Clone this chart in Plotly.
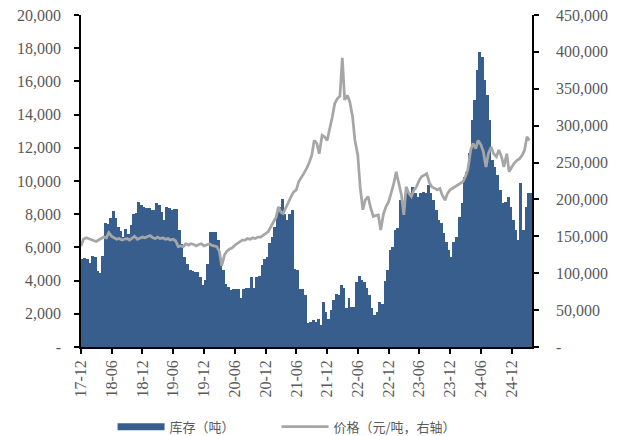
import plotly.graph_objects as go
import pandas as pd

# half-monthly observation dates (1st and 15th of each month)
dates = pd.date_range('2017-12-01', periods=176, freq='SMS')

inventory = [
    5300, 5360, 5300, 5040, 5480, 5420, 4600, 4450, 5480, 7500,
    7400, 7750, 8190, 7750, 7250, 7000, 6600, 7100, 6800, 7350,
    8000, 8100, 8730, 8570, 8430, 8370, 8370, 8270, 8270, 8700,
    8570, 8150, 7650, 8430, 8400, 8270, 8330, 8330, 7020, 6220,
    5420, 5020, 4620, 4580, 4520, 4520, 4220, 3730, 4020, 5020,
    6930, 6930, 6930, 6430, 5020, 4620, 3820, 3620, 3460, 3470,
    3470, 3470, 2950, 3470, 3570, 3570, 4240, 3570, 4240, 4300,
    4940, 5300, 5440, 6290, 6630, 7230, 8030, 8430, 8900, 8030,
    7630, 8030, 8230, 4700, 4640, 3500, 3500, 3130, 1430, 1500,
    1600, 1500, 1700, 1300, 2730, 2130, 1700, 2230, 2830, 3200,
    3130, 3730, 3570, 2360, 2930, 2430, 2430, 3930, 4300, 4040,
    3930, 3570, 3130, 2360, 1930, 2100, 2730, 2600, 4000, 4640,
    5840, 6050, 7050, 7150, 8850, 8650, 8450, 9450, 9250, 9650,
    9250, 9050, 9250, 9350, 9250, 9760, 9250, 8850, 8250, 7650,
    7450, 6850, 6350, 5850, 5440, 6350, 6650, 7850, 8650, 10250,
    10550, 11660, 13660, 14870, 16680, 17780, 17480, 16080, 15180, 13660,
    11260, 10860, 10360, 9450, 8650, 8750, 9050, 8450, 7650, 7050,
    6450, 9860, 7050, 8450, 9260, 9300,
]

price = [
    137000, 146000, 148000, 147000, 146000, 145000, 143000, 145000, 147000, 149000,
    148000, 155000, 150000, 148000, 146000, 147000, 145000, 146000, 147000, 145000,
    148000, 150000, 146000, 147000, 149000, 148000, 150000, 151000, 148000, 147000,
    149000, 147000, 148000, 146000, 147000, 145000, 146000, 144000, 136000, 137000,
    136000, 140000, 138000, 140000, 139000, 137000, 139000, 140000, 137000, 138000,
    140000, 138000, 137000, 136000, 130000, 110000, 125000, 130000, 133000, 134000,
    138000, 140500, 142700, 145000, 145000, 147000, 146000, 148000, 147000, 149000,
    149000, 151000, 154000, 156000, 163000, 169000, 176000, 190000, 183000, 181000,
    190000, 197000, 204000, 210000, 213000, 224000, 231000, 235000, 242000, 249000,
    260000, 280000, 276000, 262000, 287000, 285000, 280000, 294000, 312000, 330000,
    337000, 340000, 392000, 335000, 341000, 332000, 312000, 280000, 260000, 217000,
    186000, 199000, 204000, 190000, 177000, 178000, 179000, 158600, 181000, 190000,
    197000, 208000, 222000, 237600, 222000, 206000, 179000, 217000, 208000, 204000,
    213000, 217000, 226000, 231000, 233000, 235000, 222000, 217000, 215000, 213000,
    215000, 206000, 199000, 208000, 213000, 215000, 217000, 220000, 222000, 224000,
    231000, 240000, 267000, 276000, 269000, 280000, 274000, 265000, 244000, 262000,
    271000, 262000, 258000, 267000, 258000, 244000, 262000, 237600, 244000, 249000,
    253000, 255000, 260000, 267000, 285000, 280000,
]

x_tick_dates = ['2017-12-01', '2018-06-01', '2018-12-01', '2019-06-01', '2019-12-01',
                '2020-06-01', '2020-12-01', '2021-06-01', '2021-12-01', '2022-06-01',
                '2022-12-01', '2023-06-01', '2023-12-01', '2024-06-01', '2024-12-01']
x_tick_text = ['17-12', '18-06', '18-12', '19-06', '19-12', '20-06', '20-12', '21-06',
               '21-12', '22-06', '22-12', '23-06', '23-12', '24-06', '24-12']

left_ticks = list(range(0, 20001, 2000))
left_text = ['-'] + [f'{v:,}' for v in left_ticks[1:]]
right_ticks = list(range(0, 450001, 50000))
right_text = ['-'] + [f'{v:,}' for v in right_ticks[1:]]

BLUE = '#385E8E'
GRAY = '#A6A6A6'
TICKFONT = dict(family='Liberation Serif, Times New Roman, serif', size=16, color='#595959')
LEGFONT = dict(family='Noto Sans CJK SC', size=13, color='#595959')

fig = go.Figure()
fig.add_trace(go.Bar(
    x=dates, y=inventory, name='库存（吨）', marker=dict(color=BLUE, line=dict(width=0)),
    offset=0, width=17 * 86400000, showlegend=False,
))
# legend proxy for the bar series (wide flat rectangle)
fig.add_trace(go.Scatter(
    x=[None], y=[None], mode='lines', name='库存（吨）',
    line=dict(color=BLUE, width=7), legend='legend',
))
fig.add_trace(go.Scatter(
    x=dates, y=price, mode='lines', name='价格（元/吨，右轴）', yaxis='y2',
    line=dict(color=GRAY, width=2.75), legend='legend2',
))

# the page body adds an 8px offset, so the figure is 8px smaller on each axis
fig.update_layout(
    width=611, height=428,
    margin=dict(l=73, r=87, t=7, b=89, autoexpand=False),
    paper_bgcolor='white', plot_bgcolor='white',
    bargap=0,
    showlegend=True,
    legend=dict(
        orientation='h', x=0.07, xanchor='left', y=-0.24, yanchor='middle',
        font=LEGFONT, itemwidth=47, bgcolor='rgba(0,0,0,0)',
    ),
    legend2=dict(
        orientation='h', x=0.4335, xanchor='left', y=-0.24, yanchor='middle',
        font=LEGFONT, itemwidth=47, bgcolor='rgba(0,0,0,0)',
    ),
    xaxis=dict(
        type='date', range=['2017-12-01', '2025-03-31'],
        tickmode='array', tickvals=x_tick_dates, ticktext=x_tick_text,
        tickangle=-90, tickfont=TICKFONT,
        showline=True, linecolor='black', linewidth=1.5,
        ticks='outside', ticklen=5, tickcolor='black', tickwidth=1.5,
        showgrid=False, zeroline=False, automargin=False, ticklabeloverflow='allow',
    ),
    yaxis=dict(
        range=[0, 20000], tickmode='array', tickvals=left_ticks, ticktext=left_text,
        tickfont=TICKFONT, showline=True, linecolor='black', linewidth=1.5,
        ticks='outside', ticklen=5, tickcolor='black', tickwidth=1.5,
        showgrid=False, zeroline=False, ticklabelstandoff=10, automargin=False,
        ticklabeloverflow='allow',
    ),
    yaxis2=dict(
        range=[0, 450000], overlaying='y', side='right', tickmode='array',
        tickvals=right_ticks, ticktext=right_text, tickfont=TICKFONT,
        showline=True, linecolor='black', linewidth=1.5,
        ticks='outside', ticklen=5, tickcolor='black', tickwidth=1.5,
        showgrid=False, zeroline=False, ticklabelstandoff=14, automargin=False,
        ticklabeloverflow='allow',
    ),
)

fig.write_html('out.html')
